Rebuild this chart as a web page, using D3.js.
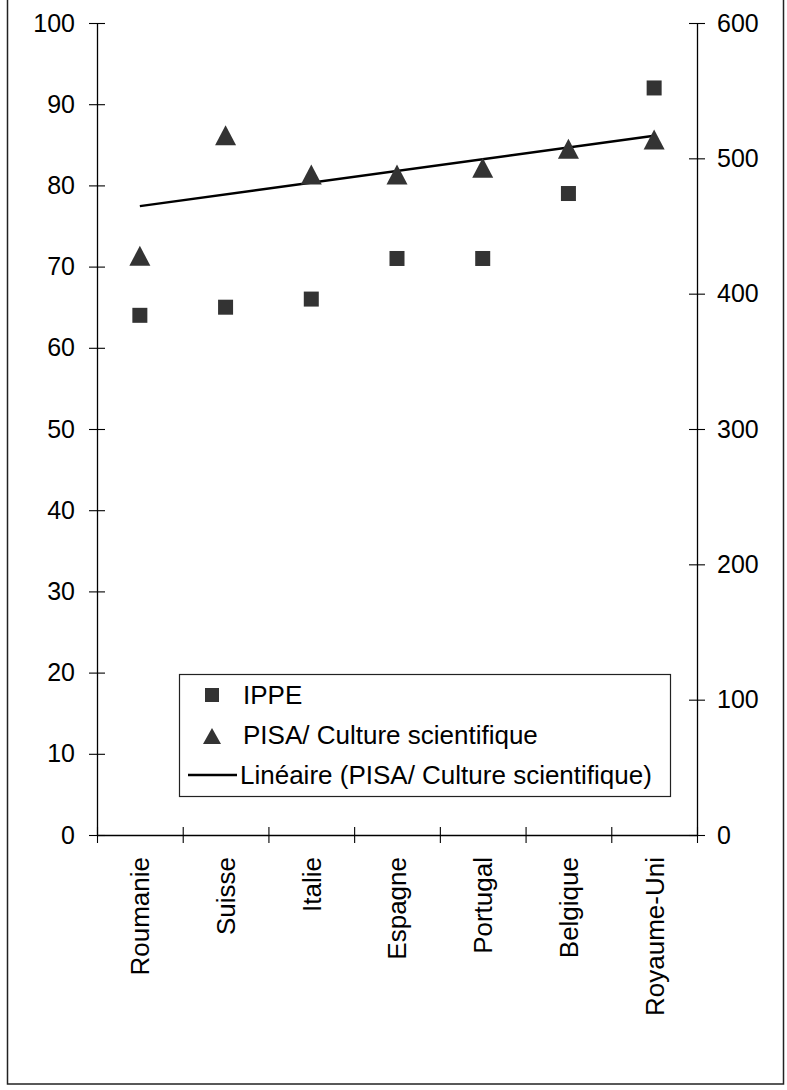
<!DOCTYPE html>
<html>
<head>
<meta charset="utf-8">
<script src="https://cdn.jsdelivr.net/npm/d3@7"></script>
<style>
  body { margin: 0; background: #fff; }
  text { font-family: "Liberation Sans", Arial, sans-serif; fill: #000; }
</style>
</head>
<body>
<script>
var countries = ['Roumanie', 'Suisse', 'Italie', 'Espagne', 'Portugal', 'Belgique', 'Royaume-Uni'];
var ippe = [64, 65, 66, 71, 71, 79, 92];
var pisa = [428, 517, 488, 488, 493, 507, 514];
var leftTicks = [0, 10, 20, 30, 40, 50, 60, 70, 80, 90, 100];
var rightTicks = [0, 100, 200, 300, 400, 500, 600];

var width = 787;
var height = 1090;

var plotLeft = 97, plotRight = 697, plotTop = 23, plotBottom = 835;

var svg = d3.select('body').append('svg')
  .attr('width', width)
  .attr('height', height);

// outer frame
svg.append('rect')
  .attr('x', 7.5).attr('y', -5)
  .attr('width', 776).attr('height', 1089)
  .attr('fill', 'none')
  .attr('stroke', '#222')
  .attr('stroke-width', 1.5);

var x = d3.scaleBand().domain(countries).range([plotLeft, plotRight]);
var xEdge = d3.scaleLinear().domain([0, countries.length]).range([plotLeft, plotRight]);
var yL = d3.scaleLinear().domain([0, 100]).range([plotBottom, plotTop]);
var yR = d3.scaleLinear().domain([0, 600]).range([plotBottom, plotTop]);

// left axis
var gL = svg.append('g').attr('transform', 'translate(' + plotLeft + ',0)')
  .call(d3.axisLeft(yL).tickValues(leftTicks).tickSize(8).tickSizeOuter(0).tickPadding(14));
gL.selectAll('.tick line').attr('x1', 8);

// right axis
var gR = svg.append('g').attr('transform', 'translate(' + plotRight + ',0)')
  .call(d3.axisRight(yR).tickValues(rightTicks).tickSize(8).tickSizeOuter(0).tickPadding(12));
gR.selectAll('.tick line').attr('x1', -8);

// bottom axis, ticks on category edges
var gB = svg.append('g').attr('transform', 'translate(0,' + plotBottom + ')')
  .call(d3.axisBottom(xEdge).tickValues(d3.range(countries.length + 1)).tickFormat('').tickSize(8).tickSizeOuter(0));
gB.selectAll('.tick line').attr('y1', -8);

svg.selectAll('.domain').attr('stroke', '#000').attr('stroke-width', 1.3);
svg.selectAll('.tick line').attr('stroke', '#000').attr('stroke-width', 1.1);
svg.selectAll('.tick text').attr('font-size', 25).attr('font-family', '"Liberation Sans", Arial, sans-serif').attr('fill', '#000');

// category labels
svg.selectAll('.xlab')
  .data(countries)
  .enter().append('text')
  .attr('class', 'xlab')
  .attr('transform', function(d) {
    return 'translate(' + (x(d) + x.bandwidth() / 2) + ',' + 857 + ') rotate(-90)';
  })
  .attr('text-anchor', 'end')
  .attr('dy', '0.36em')
  .attr('font-size', 26)
  .text(function(d) { return d; });

// trend line (least squares on PISA)
var n = pisa.length;
var xs = d3.range(1, n + 1);
var mx = d3.mean(xs), my = d3.mean(pisa);
var sxy = d3.sum(xs, function(v, i) { return (v - mx) * (pisa[i] - my); });
var sxx = d3.sum(xs, function(v) { return (v - mx) * (v - mx); });
var slope = sxy / sxx;
var icpt = my - slope * mx;

var line = d3.line()
  .x(function(d) { return x(countries[d - 1]) + x.bandwidth() / 2; })
  .y(function(d) { return yR(icpt + slope * d); });

svg.append('path')
  .datum([1, n])
  .attr('d', line)
  .attr('fill', 'none')
  .attr('stroke', '#000')
  .attr('stroke-width', 2.5);

var triPath = 'M0,-10L10.5,10L-10.5,10Z';

// IPPE squares
svg.selectAll('.sq')
  .data(ippe)
  .enter().append('rect')
  .attr('class', 'sq')
  .attr('x', function(d, i) { return x(countries[i]) + x.bandwidth() / 2 - 7.5; })
  .attr('y', function(d) { return yL(d) - 7.5; })
  .attr('width', 15).attr('height', 15)
  .attr('fill', '#333');

// PISA triangles
svg.selectAll('.tri')
  .data(pisa)
  .enter().append('path')
  .attr('class', 'tri')
  .attr('transform', function(d, i) {
    return 'translate(' + (x(countries[i]) + x.bandwidth() / 2) + ',' + yR(d) + ')';
  })
  .attr('d', triPath)
  .attr('fill', '#333');

// legend
var lg = svg.append('g');
lg.append('rect')
  .attr('x', 179.5).attr('y', 674.5)
  .attr('width', 491).attr('height', 122)
  .attr('fill', '#fff')
  .attr('stroke', '#222')
  .attr('stroke-width', 1.2);

lg.append('rect')
  .attr('x', 205).attr('y', 688).attr('width', 14).attr('height', 14)
  .attr('fill', '#333');
lg.append('path')
  .attr('transform', 'translate(212,736)')
  .attr('d', 'M0,-8L9,8L-9,8Z')
  .attr('fill', '#333');
lg.append('line')
  .attr('x1', 188).attr('x2', 237)
  .attr('y1', 775).attr('y2', 775)
  .attr('stroke', '#000').attr('stroke-width', 2.5);

var legendLabels = ['IPPE', 'PISA/ Culture scientifique', 'Linéaire (PISA/ Culture scientifique)'];
lg.selectAll('.lt')
  .data(legendLabels)
  .enter().append('text')
  .attr('x', function(d, i) { return i === 2 ? 240 : 243; })
  .attr('y', function(d, i) { return 695 + i * 40; })
  .attr('dy', '0.36em')
  .attr('font-size', 26)
  .text(function(d) { return d; });
</script>
</body>
</html>
